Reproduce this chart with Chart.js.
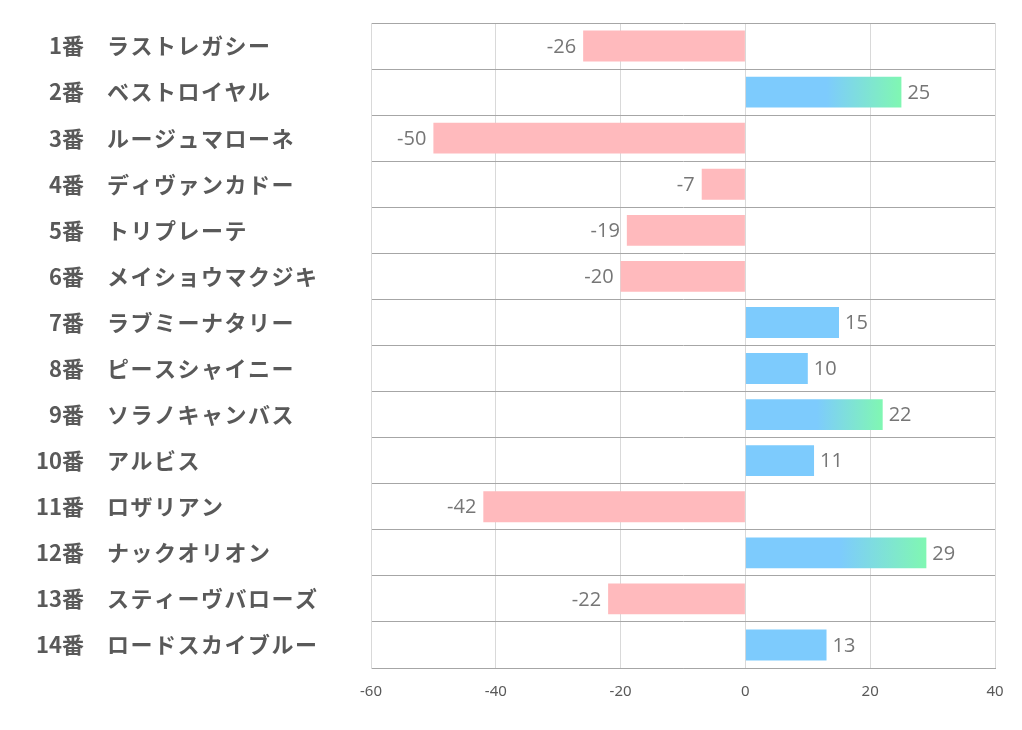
<!DOCTYPE html>
<html lang="ja">
<head>
<meta charset="utf-8">
<script src="https://cdn.jsdelivr.net/npm/chart.js@4/dist/chart.umd.min.js"></script>
<style>
  html, body { margin: 0; padding: 0; background: #fff; }
  #wrap { width: 1022px; height: 730px; position: relative; }
</style>
</head>
<body>
<div id="wrap"><canvas id="chart"></canvas></div>
<script>
// data
var horseNumbers = ['1番', '2番', '3番', '4番', '5番', '6番', '7番', '8番', '9番', '10番', '11番', '12番', '13番', '14番'];
var horseNames = ['ラストレガシー', 'ベストロイヤル', 'ルージュマローネ', 'ディヴァンカドー', 'トリプレーテ',
  'メイショウマクジキ', 'ラブミーナタリー', 'ピースシャイニー', 'ソラノキャンバス', 'アルビス',
  'ロザリアン', 'ナックオリオン', 'スティーヴバローズ', 'ロードスカイブルー'];
var scores = [-26, 25, -50, -7, -19, -20, 15, 10, 22, 11, -42, 29, -22, 13];
var xTicks = [-60, -40, -20, 0, 20, 40];

var pink = 'rgb(255,186,189)';
var blue = 'rgb(125,203,253)';
var green = 'rgb(128,247,178)';
var gradientFrom = 20; // bars above this fade into green

function barColor(ctx) {
  var v = scores[ctx.dataIndex];
  if (v < 0) return pink;
  if (v <= gradientFrom) return blue;
  var chart = ctx.chart;
  var xs = chart.scales.x;
  if (!chart.chartArea || !xs) return blue;
  var x0 = xs.getPixelForValue(0);
  var x1 = xs.getPixelForValue(v);
  var g = chart.ctx.createLinearGradient(x0, 0, x1, 0);
  g.addColorStop(0, blue);
  g.addColorStop(0.52, blue);
  g.addColorStop(1, green);
  return g;
}

// row labels: number right-aligned, name left-aligned
var rowLabels = {
  id: 'rowLabels',
  afterDraw: function (chart) {
    var c = chart.ctx;
    var ys = chart.scales.y;
    c.save();
    c.fillStyle = '#595959';
    c.textBaseline = 'middle';
    horseNumbers.forEach(function (n, i) {
      var y = ys.getPixelForValue(i);
      c.font = 'bold 22px "Noto Sans CJK JP", "Noto Sans", sans-serif';
      c.letterSpacing = '0px';
      c.textAlign = 'right';
      c.fillText(n, 84, y);
      c.letterSpacing = '1.5px';
      c.textAlign = 'left';
      c.fillText(horseNames[i], 107, y);
    });
    c.restore();
  }
};

// value labels at bar ends
var valueLabels = {
  id: 'valueLabels',
  afterDatasetsDraw: function (chart) {
    var c = chart.ctx;
    var meta = chart.getDatasetMeta(0);
    c.save();
    c.fillStyle = '#767676';
    c.font = '20px "Open Sans", "Noto Sans", sans-serif';
    c.textBaseline = 'middle';
    meta.data.forEach(function (bar, i) {
      var v = scores[i];
      if (v < 0) {
        c.textAlign = 'right';
        c.fillText(String(v), bar.x - 7, bar.y + 1);
      } else {
        c.textAlign = 'left';
        c.fillText(String(v), bar.x + 6, bar.y + 1);
      }
    });
    c.restore();
  }
};

new Chart(document.getElementById('chart'), {
  type: 'bar',
  data: {
    labels: horseNames,
    datasets: [{
      data: scores,
      backgroundColor: barColor,
      borderWidth: 0,
      barPercentage: 1,
      categoryPercentage: 0.67
    }]
  },
  options: {
    indexAxis: 'y',
    responsive: true,
    maintainAspectRatio: false,
    animation: false,
    layout: { padding: { left: 371, right: 27, top: 23, bottom: 14 } },
    plugins: { legend: { display: false }, tooltip: { enabled: false } },
    scales: {
      x: {
        min: -60,
        max: 40,
        afterBuildTicks: function (axis) {
          axis.ticks = xTicks.map(function (v) { return { value: v }; });
        },
        grid: { color: '#d9d9d9', drawTicks: false },
        border: { color: '#a6a6a6', width: 1 },
        ticks: {
          color: '#595959',
          padding: 15,
          font: { size: 15, family: '"Noto Sans", sans-serif' }
        }
      },
      y: {
        grid: { color: '#a6a6a6', drawTicks: false, offset: true },
        border: { color: '#d9d9d9', width: 1 },
        ticks: { display: false }
      }
    }
  },
  plugins: [rowLabels, valueLabels]
});
</script>
</body>
</html>
